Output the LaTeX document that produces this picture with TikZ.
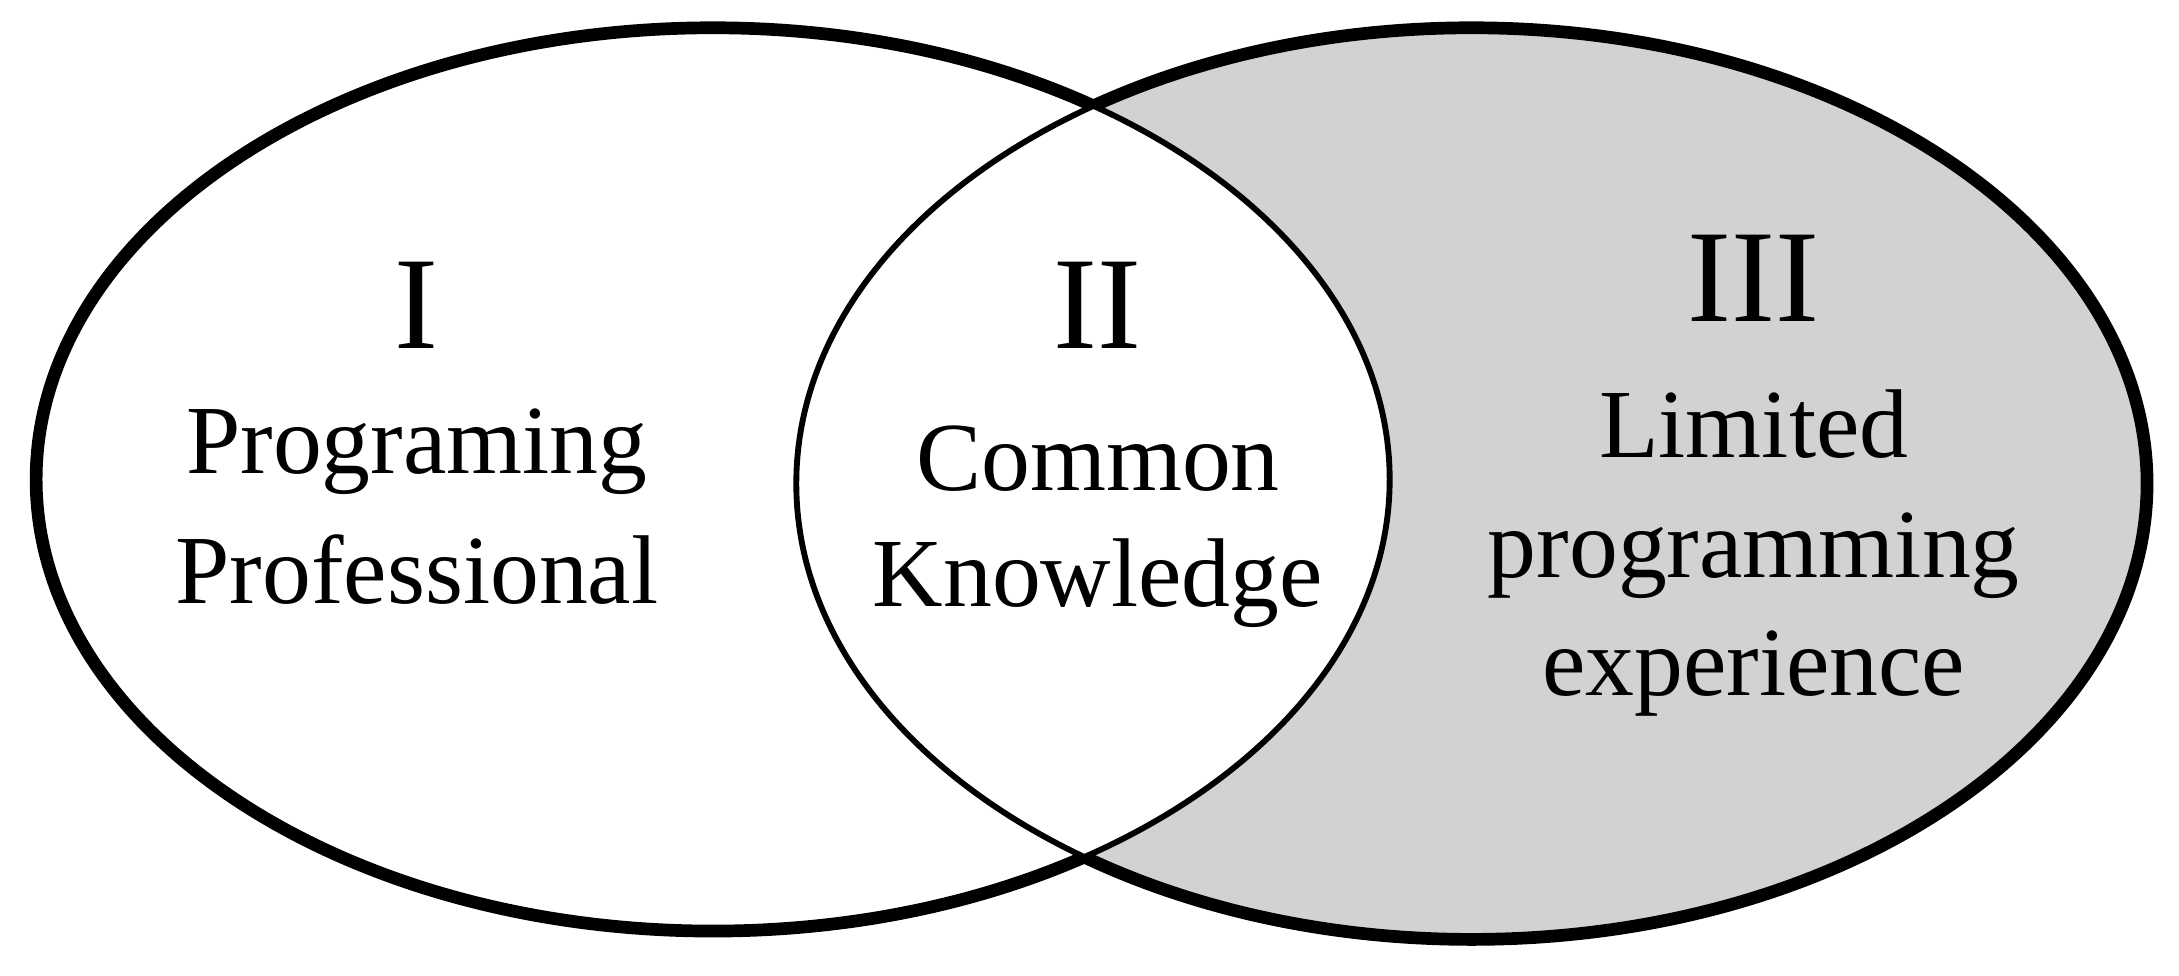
\documentclass[tikz,border=0pt]{standalone}
\usepackage{fontspec}
\setmainfont{Liberation Serif}
\begin{document}
\begin{tikzpicture}
      [%%%%%%%%%%%%%%%%%%%%%%%%%%%%%%
      num/.style={font=\fontsize{27}{30}\selectfont},
      lbl/.style={font=\fontsize{20}{24}\selectfont},
      thin set/.style={draw=black,line width=1.2pt},
      thick set/.style={draw=black,line width=2.6pt},
      ]%%%%%%%%%%%%%%%%%%%%%%%%%%%%%%
      \useasboundingbox (0,0) rectangle (15.68,7.02);
      
      \fill[gray!35] (10.59,3.54) ellipse [x radius=4.86,y radius=3.28];
      \fill[white] (5.13,3.57) ellipse [x radius=4.87,y radius=3.25];
      
      \draw[thin set] (5.13,3.57) ellipse [x radius=4.87,y radius=3.25];
      \draw[thin set] (10.59,3.54) ellipse [x radius=4.86,y radius=3.28];
      \begin{scope}[even odd rule]
        \clip (-1,-1) rectangle (17,8) (10.59,3.54) ellipse [x radius=4.86,y radius=3.28];
        \draw[thick set] (5.13,3.57) ellipse [x radius=4.87,y radius=3.25];
      \end{scope}
      \begin{scope}[even odd rule]
        \clip (-1,-1) rectangle (17,8) (5.13,3.57) ellipse [x radius=4.87,y radius=3.25];
        \draw[thick set] (10.59,3.54) ellipse [x radius=4.86,y radius=3.28];
      \end{scope}
      
      \node[num] (one) at (3.00,4.82) {I};
      \node[lbl] (prog) at (3.00,3.77) {Programing};
      \node[lbl] (prof) at (3.00,2.92) {Professional};
      
      \node[num] (two) at (7.90,4.82) {II};
      \node[lbl] (common) at (7.90,3.72) {Common};
      \node[lbl] (know) at (7.90,2.82) {Knowledge};
      
      \node[num] (three) at (12.62,5.02) {III};
      \node[lbl] (limited) at (12.62,3.97) {Limited};
      \node[lbl] (programming) at (12.62,3.02) {programming};
      \node[lbl] (experience) at (12.62,2.17) {experience};
\end{tikzpicture}
\end{document}
